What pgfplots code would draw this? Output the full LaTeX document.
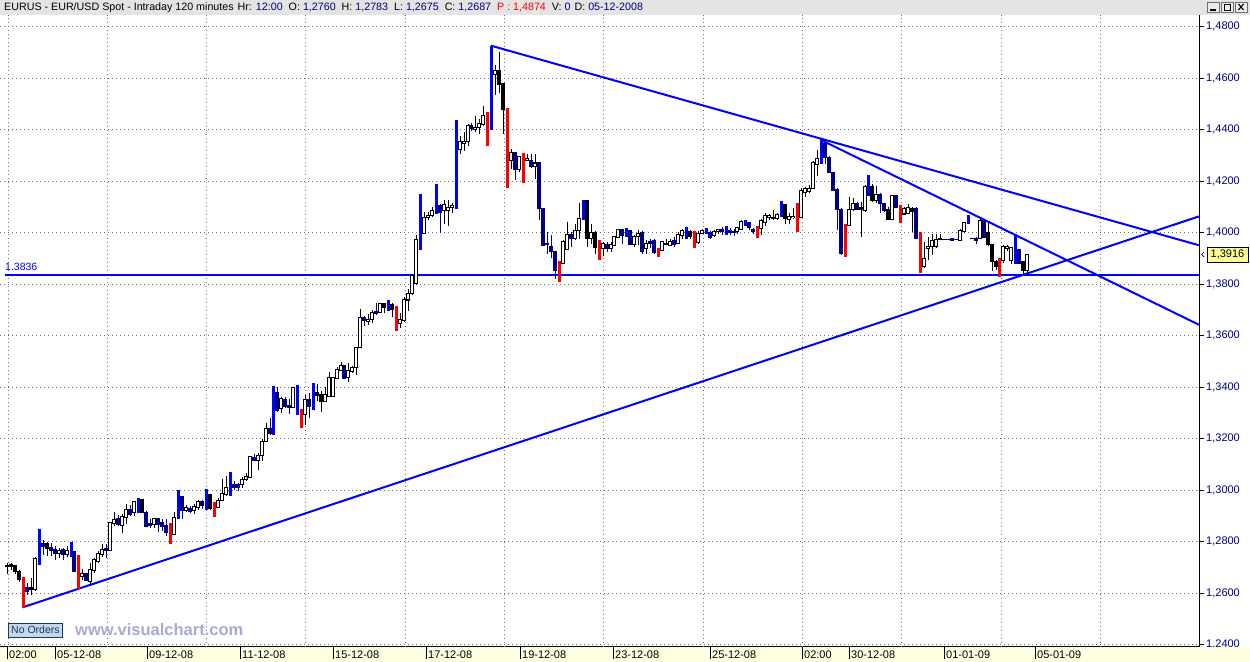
\documentclass[border=0pt]{standalone}
\usepackage{pgfplots}
\usepackage{pgfplotstable}
\pgfplotsset{compat=1.18}
\usepackage{fontspec}
\setmainfont{Liberation Sans}
\definecolor{navyc}{RGB}{0,0,128}
\definecolor{hdr}{RGB}{228,228,228}
\definecolor{yel}{RGB}{255,255,225}
\definecolor{gridc}{RGB}{110,110,110}
\definecolor{wm}{RGB}{165,172,212}
\definecolor{btnfill}{RGB}{198,214,236}
\definecolor{btntext}{RGB}{20,60,90}
\definecolor{boxy}{RGB}{255,255,153}
\definecolor{lineb}{RGB}{0,0,255}
\definecolor{redb}{RGB}{255,0,0}

% up candles (hollow)
\pgfplotstableread{
x o h l c
35 1.2613 1.2740 1.2610 1.2737
59 1.2754 1.2774 1.2736 1.2766
67 1.2750 1.2784 1.2740 1.2766
82 1.2665 1.2693 1.2652 1.2676
90 1.2645 1.2717 1.2636 1.2691
94 1.2688 1.2739 1.2678 1.2730
98 1.2723 1.2766 1.2719 1.2753
102 1.2750 1.2791 1.2740 1.2771
110 1.2766 1.2878 1.2763 1.2875
114 1.2870 1.2916 1.2860 1.2888
122 1.2865 1.2908 1.2836 1.2899
126 1.2896 1.2948 1.2870 1.2927
134 1.2914 1.2960 1.2899 1.2958
154 1.2868 1.2889 1.2854 1.2889
174 1.2827 1.2915 1.2825 1.2894
186 1.2923 1.2941 1.2917 1.2933
194 1.2923 1.2948 1.2907 1.2938
198 1.2933 1.2961 1.2925 1.2956
218 1.2933 1.2970 1.2932 1.2961
222 1.2961 1.3044 1.2957 1.2987
226 1.2983 1.3054 1.2977 1.3010
242 1.3021 1.3052 1.3009 1.3041
246 1.3041 1.3067 1.3035 1.3054
250 1.3050 1.3134 1.3048 1.3130
258 1.3116 1.3145 1.3077 1.3137
262 1.3134 1.3200 1.3112 1.3191
266 1.3191 1.3261 1.3188 1.3241
281 1.3316 1.3364 1.3302 1.3357
293 1.3322 1.3403 1.3319 1.3399
305 1.3293 1.3371 1.3254 1.3354
325 1.3345 1.3403 1.3341 1.3371
329 1.3364 1.3461 1.3362 1.3439
333 1.3364 1.3439 1.3362 1.3438
337 1.3434 1.3478 1.3431 1.3470
341 1.3466 1.3499 1.3464 1.3485
348 1.3438 1.3496 1.3422 1.3464
352 1.3460 1.3483 1.3455 1.3477
356 1.3478 1.3558 1.3447 1.3556
360 1.3553 1.3703 1.3552 1.3672
368 1.3655 1.3685 1.3642 1.3664
372 1.3664 1.3700 1.3649 1.3690
380 1.3690 1.3729 1.3688 1.3724
400 1.3649 1.3688 1.3629 1.3662
404 1.3658 1.3750 1.3655 1.3742
408 1.3739 1.3781 1.3698 1.3763
412 1.3765 1.3840 1.3760 1.3835
416 1.3803 1.3990 1.3796 1.3973
424 1.3999 1.4080 1.3994 1.4058
428 1.4058 1.4080 1.4048 1.4067
432 1.4067 1.4102 1.4061 1.4087
444 1.4087 1.4126 1.4035 1.4110
448 1.4087 1.4128 1.4027 1.4097
452 1.4098 1.4116 1.4077 1.4105
460 1.4323 1.4375 1.4305 1.4355
464 1.4346 1.4391 1.4317 1.4355
468 1.4355 1.4421 1.4336 1.4417
475 1.4400 1.4452 1.4391 1.4410
479 1.4410 1.4443 1.4384 1.4423
483 1.4419 1.4492 1.4416 1.4456
495 1.4616 1.4652 1.4535 1.4629
511 1.4281 1.4327 1.4249 1.4310
519 1.4245 1.4297 1.4236 1.4295
527 1.4280 1.4307 1.4278 1.4287
535 1.4256 1.4305 1.4210 1.4271
563 1.3881 1.3971 1.3879 1.3968
567 1.3934 1.4043 1.3932 1.3994
575 1.3977 1.4036 1.3971 1.4009
579 1.4008 1.4114 1.3977 1.4056
591 1.3977 1.4036 1.3958 1.4000
603 1.3938 1.3964 1.3910 1.3960
611 1.3938 1.3964 1.3925 1.3955
614 1.3951 1.3988 1.3950 1.3986
618 1.3983 1.4015 1.3980 1.4012
634 1.3955 1.3990 1.3945 1.3987
638 1.3987 1.4009 1.3951 1.3996
646 1.3938 1.3971 1.3919 1.3960
662 1.3932 1.3970 1.3929 1.3966
670 1.3951 1.3977 1.3947 1.3968
678 1.3960 1.4003 1.3955 1.3994
682 1.3990 1.4015 1.3977 1.4009
698 1.3964 1.4006 1.3955 1.3999
702 1.3999 1.4015 1.3994 1.4009
714 1.3988 1.4012 1.3983 1.4006
718 1.4005 1.4015 1.3996 1.4012
737 1.4006 1.4022 1.3996 1.4019
741 1.4013 1.4048 1.4009 1.4044
761 1.4015 1.4054 1.3990 1.4048
765 1.4041 1.4076 1.4028 1.4067
769 1.4060 1.4073 1.4048 1.4067
777 1.4054 1.4076 1.4048 1.4071
789 1.4050 1.4076 1.4035 1.4063
793 1.4058 1.4097 1.4054 1.4063
801 1.4060 1.4173 1.4056 1.4166
805 1.4156 1.4179 1.4138 1.4173
809 1.4160 1.4186 1.4156 1.4173
813 1.4173 1.4277 1.4169 1.4273
817 1.4264 1.4322 1.4221 1.4290
849 1.4030 1.4140 1.4026 1.4091
853 1.4091 1.4134 1.4086 1.4114
865 1.4086 1.4186 1.4082 1.4179
876 1.4125 1.4182 1.4114 1.4147
892 1.4052 1.4147 1.4049 1.4143
904 1.4073 1.4099 1.4069 1.4095
908 1.4075 1.4112 1.4073 1.4099
924 1.3870 1.3965 1.3865 1.3900
928 1.3939 1.3984 1.3896 1.3948
932 1.3945 1.3997 1.3913 1.3971
936 1.3948 1.3997 1.3939 1.3974
940 1.3974 1.3995 1.3971 1.3978
960 1.3971 1.4013 1.3969 1.4010
964 1.4004 1.4043 1.4000 1.4039
980 1.3978 1.4052 1.3974 1.4047
1003 1.3893 1.3952 1.3883 1.3945
1007 1.3939 1.3953 1.3930 1.3948
1011 1.3891 1.3945 1.3878 1.3943
1027 1.3854 1.3919 1.3838 1.3917
}\upc

% down candles (navy)
\pgfplotstableread{
x o h l c
27 1.2623 1.2639 1.2593 1.2609
43 1.2795 1.2808 1.2748 1.2782
51 1.2778 1.2795 1.2745 1.2766
55 1.2769 1.2782 1.2728 1.2753
63 1.2769 1.2775 1.2730 1.2750
74 1.2762 1.2765 1.2683 1.2684
86 1.2676 1.2678 1.2646 1.2649
106 1.2772 1.2791 1.2736 1.2766
118 1.2891 1.2905 1.2860 1.2867
130 1.2927 1.2943 1.2899 1.2906
146 1.2915 1.2919 1.2861 1.2861
150 1.2871 1.2889 1.2854 1.2865
158 1.2889 1.2889 1.2840 1.2867
162 1.2874 1.2887 1.2841 1.2861
166 1.2865 1.2887 1.2822 1.2838
182 1.2977 1.2977 1.2887 1.2920
190 1.2928 1.2938 1.2912 1.2919
202 1.2956 1.2964 1.2928 1.2941
234 1.3022 1.3035 1.3003 1.3009
238 1.3023 1.3028 1.2996 1.3009
254 1.3126 1.3142 1.3112 1.3116
270 1.3241 1.3280 1.3215 1.3222
277 1.3380 1.3403 1.3306 1.3310
285 1.3354 1.3364 1.3319 1.3325
289 1.3329 1.3354 1.3297 1.3322
309 1.3354 1.3377 1.3280 1.3325
344 1.3483 1.3486 1.3431 1.3435
364 1.3672 1.3677 1.3638 1.3659
376 1.3694 1.3726 1.3681 1.3688
440 1.4106 1.4110 1.4001 1.4077
471 1.4417 1.4426 1.4397 1.4404
515 1.4310 1.4314 1.4204 1.4245
531 1.4282 1.4307 1.4253 1.4256
539 1.4271 1.4272 1.4048 1.4094
543 1.4094 1.4094 1.3951 1.3951
547 1.3960 1.4003 1.3919 1.3955
551 1.3947 1.3990 1.3903 1.3929
555 1.3927 1.3930 1.3822 1.3852
571 1.3994 1.4004 1.3945 1.3977
607 1.3955 1.3964 1.3925 1.3938
622 1.4012 1.4015 1.3958 1.3988
630 1.4009 1.4009 1.3951 1.3955
642 1.4001 1.4006 1.3919 1.3929
650 1.3968 1.3977 1.3942 1.3958
654 1.3971 1.3977 1.3919 1.3922
674 1.3971 1.3983 1.3945 1.3955
710 1.4003 1.4006 1.3977 1.3981
722 1.4012 1.4022 1.3990 1.4006
730 1.4009 1.4019 1.3990 1.4001
734 1.4006 1.4015 1.3987 1.4002
749 1.4039 1.4041 1.4009 1.4022
753 1.4012 1.4019 1.3994 1.4006
825 1.4348 1.4364 1.4268 1.4294
829 1.4294 1.4297 1.4231 1.4234
833 1.4234 1.4234 1.4166 1.4166
837 1.4169 1.4173 1.4010 1.4091
841 1.4091 1.4095 1.3913 1.3919
857 1.4114 1.4121 1.4088 1.4091
880 1.4147 1.4153 1.4078 1.4112
884 1.4112 1.4117 1.4082 1.4088
896 1.4143 1.4147 1.4095 1.4099
916 1.4095 1.4099 1.3974 1.3978
944 1.3975 1.3977 1.3972 1.3974
948 1.3975 1.3977 1.3972 1.3974
952 1.3977 1.3978 1.3969 1.3970
956 1.3975 1.3976 1.3973 1.3974
972 1.3978 1.3980 1.3975 1.3976
976 1.3978 1.3984 1.3958 1.3971
984 1.4049 1.4052 1.3978 1.3981
1019 1.3935 1.3938 1.3878 1.3880
}\dnc

% down candles (black)
\pgfplotstableread{
x o h l c
7 1.2709 1.2717 1.2674 1.2704
11 1.2710 1.2717 1.2691 1.2706
15 1.2709 1.2710 1.2674 1.2683
19 1.2683 1.2691 1.2645 1.2652
31 1.2623 1.2658 1.2593 1.2613
47 1.2792 1.2800 1.2744 1.2775
142 1.2964 1.2964 1.2912 1.2915
210 1.2983 1.2987 1.2925 1.2930
317 1.3381 1.3413 1.3345 1.3367
321 1.3373 1.3386 1.3306 1.3345
384 1.3724 1.3726 1.3688 1.3711
392 1.3720 1.3729 1.3672 1.3703
499 1.4629 1.4704 1.4542 1.4574
503 1.4578 1.4581 1.4382 1.4479
587 1.4124 1.4129 1.3943 1.3977
595 1.4003 1.4007 1.3917 1.3943
666 1.3960 1.3977 1.3951 1.3955
690 1.4005 1.4009 1.3977 1.3986
773 1.4060 1.4089 1.4048 1.4057
785 1.4109 1.4112 1.4035 1.4054
861 1.4099 1.4121 1.3984 1.4091
872 1.4179 1.4190 1.4121 1.4127
888 1.4091 1.4099 1.4049 1.4052
912 1.4095 1.4099 1.4004 1.4082
988 1.4001 1.4039 1.3948 1.3955
992 1.3956 1.3958 1.3852 1.3887
996 1.3887 1.3893 1.3857 1.3868
1023 1.3887 1.3891 1.3839 1.3854
}\bkc

% blue bars
\pgfplotstableread{
x h l
39 1.2849 1.2711
71 1.2800 1.2740
138 1.2970 1.2912
178 1.3003 1.2889
206 1.3005 1.2923
230 1.3072 1.2979
273 1.3406 1.3213
297 1.3408 1.3292
313 1.3416 1.3313
388 1.3739 1.3698
420 1.4149 1.3934
436 1.4191 1.4074
456 1.4439 1.4094
491 1.4727 1.4400
583 1.4127 1.4050
626 1.4019 1.3983
686 1.4022 1.3977
706 1.4017 1.3994
726 1.4025 1.3990
745 1.4048 1.4028
781 1.4122 1.4060
821 1.4364 1.4268
868 1.4225 1.4143
968 1.4069 1.4034
1015 1.3995 1.3878
}\bluebars

% red bars
\pgfplotstableread{
x h l
23 1.2662 1.2541
78 1.2749 1.2615
170 1.2874 1.2792
214 1.2956 1.2896
301 1.3315 1.3240
396 1.3716 1.3620
487 1.4470 1.4336
507 1.4483 1.4175
523 1.4311 1.4194
559 1.3889 1.3808
599 1.3971 1.3893
658 1.3942 1.3906
694 1.4006 1.3941
757 1.4028 1.3979
797 1.4114 1.4003
845 1.4034 1.3906
900 1.4108 1.4039
920 1.4004 1.3844
999 1.3904 1.3828
}\redbars

\pgfplotsset{
  errb/.style 2 args={draw=none, no markers, forget plot,
    error bars/y dir=minus, error bars/y explicit, error bars/error mark=none,
    error bars/error bar style={draw=#1, line width=#2, solid}},
}

\begin{document}
\begin{tikzpicture}[x=1bp,y=1bp]
\path[use as bounding box] (0,0) rectangle (1250,662);
\fill[white] (0,0) rectangle (1250,662);
\fill[yel] (0,0) rectangle (1250,15);
\fill[hdr] (0,647) rectangle (1250,662);
\begin{axis}[
  at={(0bp,15bp)}, anchor=south west, scale only axis,
  width=1199bp, height=632bp,
  xmin=0, xmax=1199, ymin=1.23915, ymax=1.48458,
  axis x line*=bottom, axis y line*=right,
  axis line style={black, line width=1bp, -},
  tick align=outside, major tick length=5bp, minor tick length=0pt,
  tick style={black, line width=0.8bp},
  xtick=\empty,
  extra x ticks={7,55,147,240,333,426,520,613,710,802,849,944,1035},
  extra x tick labels={02:00,05-12-08,09-12-08,11-12-08,15-12-08,17-12-08,19-12-08,23-12-08,25-12-08,02:00,30-12-08,01-01-09,05-01-09},
  extra x tick style={major tick length=12bp, xmajorgrids=false,
     tick label style={anchor=north west, inner sep=0pt, xshift=2bp, yshift=8bp}},
  ytick={1.24,1.26,1.28,1.30,1.32,1.34,1.36,1.38,1.40,1.42,1.44,1.46,1.48},
  scaled y ticks=false,
  ymajorgrids=true,
  major grid style={gridc, line width=1bp, dash pattern=on 1bp off 3bp},
  yticklabel style={text=navyc, anchor=west, inner sep=0pt, xshift=2bp,
     /pgf/number format/fixed, /pgf/number format/fixed zerofill,
     /pgf/number format/precision=4, /pgf/number format/use comma,
     /pgf/number format/assume math mode=true},
  tick label style={font=\fontsize{11bp}{13bp}\selectfont},
  clip=true,
]
% vertical dotted grid lines
\addplot[ycomb, gridc, line width=1bp, dash pattern=on 1bp off 3bp, no markers, forget plot]
  coordinates {(8,1.4846) (107.3,1.4846) (206.6,1.4846) (305.9,1.4846) (405.2,1.4846) (504.5,1.4846) (603.8,1.4846) (703.1,1.4846) (802.4,1.4846) (901.7,1.4846) (1001,1.4846) (1100.3,1.4846)};
% trend lines
\addplot[lineb, line width=2bp, no markers] coordinates {(22.7,1.25456) (1199,1.40637)};
\addplot[lineb, line width=2bp, no markers] coordinates {(491,1.47266) (1199,1.39515)};
\addplot[lineb, line width=2bp, no markers] coordinates {(821,1.43604) (1199,1.36427)};
\addplot[lineb, line width=2bp, no markers] coordinates {(5,1.3836) (1199,1.3836)};
% wicks
\addplot[errb={black}{1bp}] table[x=x, y=h, y error minus expr={\thisrow{h}-\thisrow{l}}] {\upc};
\addplot[errb={navyc}{1bp}] table[x=x, y=h, y error minus expr={\thisrow{h}-\thisrow{l}}] {\dnc};
\addplot[errb={black}{1bp}] table[x=x, y=h, y error minus expr={\thisrow{h}-\thisrow{l}}] {\bkc};
% bodies
\addplot[errb={navyc}{3.6bp}] table[x=x, y expr={max(\thisrow{o},\thisrow{c})+0.0002}, y error minus expr={abs(\thisrow{o}-\thisrow{c})+0.0004}] {\dnc};
\addplot[errb={black}{3.6bp}] table[x=x, y expr={max(\thisrow{o},\thisrow{c})+0.0002}, y error minus expr={abs(\thisrow{o}-\thisrow{c})+0.0004}] {\bkc};
\addplot[errb={black}{3.8bp}] table[x=x, y expr={max(\thisrow{o},\thisrow{c})+0.0002}, y error minus expr={abs(\thisrow{o}-\thisrow{c})+0.0004}] {\upc};
\addplot[errb={white}{1.8bp}] table[x=x, y expr={max(\thisrow{o},\thisrow{c})-0.0002}, y error minus expr={max(abs(\thisrow{o}-\thisrow{c})-0.0004,0)}] {\upc};
% coloured bars
\addplot[errb={lineb}{3bp}] table[x=x, y=h, y error minus expr={\thisrow{h}-\thisrow{l}}] {\bluebars};
\addplot[errb={redb}{3bp}] table[x=x, y=h, y error minus expr={\thisrow{h}-\thisrow{l}}] {\redbars};
\end{axis}
\fill[yel] (1199.6,0) rectangle (1250,15);
% header
\node[anchor=west, inner sep=0pt, font=\fontsize{10.7bp}{12bp}\selectfont] at (4,654.5)
 {EURUS - EUR/USD Spot - Intraday 120 minutes\hspace{4bp}Hr: \textcolor{navyc}{12:00}\hspace{6bp}O: \textcolor{navyc}{1,2760}\hspace{6bp}H: \textcolor{navyc}{1,2783}\hspace{6bp}L: \textcolor{navyc}{1,2675}\hspace{6bp}C: \textcolor{navyc}{1,2687}\hspace{6bp}\textcolor{redb}{P : 1,4874}\hspace{6bp}V: \textcolor{navyc}{0}\hspace{4bp}D: \textcolor{navyc}{05-12-2008}};
% window buttons
\foreach \bx in {1207,1221,1235} {\draw[gridc, fill=hdr!70!white, line width=0.6bp] (\bx,650) rectangle (\bx+12,660);}
\draw[black, line width=1.2bp] (1210,652) -- (1216,652);
\draw[black, line width=0.8bp] (1224,652) rectangle (1230,658);
\draw[black, line width=1.1bp] (1238.5,652) -- (1243.5,658) (1238.5,658) -- (1243.5,652);
% left labels
\node[anchor=base west, inner sep=0pt, text=lineb, font=\fontsize{10.5bp}{12bp}\selectfont] at (5,391) {1.3836};
\node[draw=btntext, fill=btnfill, line width=0.8bp, inner sep=0pt, minimum width=54bp, minimum height=14bp, anchor=west, text=btntext, font=\fontsize{10.5bp}{12bp}\selectfont] at (8,32) {No Orders};
\node[anchor=west, inner sep=0pt, text=wm, font=\fontsize{16.5bp}{18bp}\selectfont\bfseries] at (75,32) {www.visualchart.com};
% price box
\node[draw=black, fill=boxy, line width=0.8bp, inner sep=0pt, minimum width=41bp, minimum height=15bp, font=\fontsize{11bp}{13bp}\selectfont] at (1227.5,407.5) {1,3916};
\draw[black, line width=0.7bp] (1204,410) -- (1201.5,407.5) -- (1204,405);
\end{tikzpicture}
\end{document}
